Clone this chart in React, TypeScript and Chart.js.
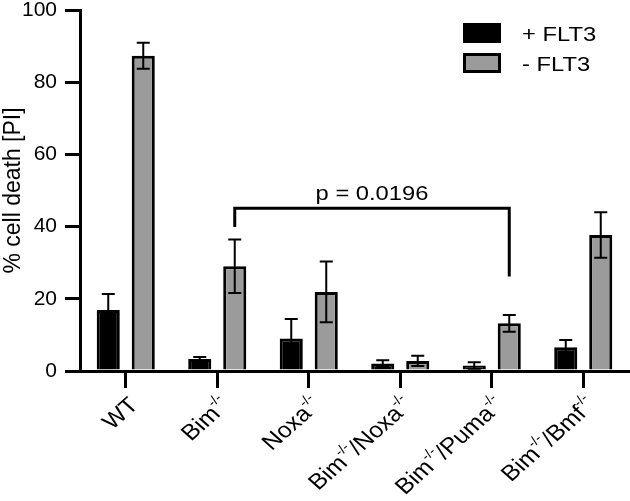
import React, { useEffect, useRef } from "react";
import { Chart, registerables } from "chart.js";

Chart.register(...registerables);

// ---- data ----
const categories = [
  "WT",
  "Bim{-/-}",
  "Noxa{-/-}",
  "Bim{-/-}/Noxa{-/-}",
  "Bim{-/-}/Puma{-/-}",
  "Bim{-/-}/Bmf{-/-}",
];
const seriesNames = ["+ FLT3", "- FLT3"];
const withFlt3 = [16.9, 3.3, 9.0, 2.1, 1.5, 6.6];
const withFlt3Err = [4.4, 0.6, 5.4, 0.9, 0.9, 2.0];
const withoutFlt3 = [87.3, 29.0, 21.9, 2.8, 13.2, 37.7];
const withoutFlt3Err = [3.6, 7.4, 8.4, 1.4, 2.3, 6.3];
const yMin = 0;
const yMax = 100;
const yStep = 20;
const yTitle = "% cell death [PI]";
// significance bracket (dataset 1, between category 1 and 4), in data units
const bracketFrom = 1;
const bracketTo = 4;
const bracketTop = 45.1;
const bracketLeftEnd = 39.9;
const bracketRightEnd = 26.2;
const bracketLabel = "p = 0.0196";

const FONT = "'Liberation Sans', Arial, Helvetica, sans-serif";
const GREY = "#9b9b9b";
const STRETCH = 1.13;

const errors = [withFlt3Err, withoutFlt3Err];

function parseLabel(s: string) {
  const parts: { t: string; sup: boolean }[] = [];
  const re = /\{([^}]*)\}/g;
  let last = 0;
  let m: RegExpExecArray | null;
  while ((m = re.exec(s))) {
    if (m.index > last) parts.push({ t: s.slice(last, m.index), sup: false });
    parts.push({ t: m[1], sup: true });
    last = m.index + m[0].length;
  }
  if (last < s.length) parts.push({ t: s.slice(last), sup: false });
  return parts;
}

function stretchedText(ctx: any, text: string, x: number, y: number, align: string) {
  ctx.save();
  ctx.translate(x, y);
  ctx.scale(STRETCH, 1);
  ctx.textAlign = align;
  ctx.fillText(text, 0, 0);
  ctx.restore();
}

const overlayPlugin = {
  id: "overlay",
  afterDatasetsDraw(chart: any) {
    const ctx = chart.ctx;
    const y = chart.scales.y;
    ctx.save();
    ctx.strokeStyle = "#000";
    ctx.lineWidth = 2;
    chart.data.datasets.forEach((ds: any, i: number) => {
      const meta = chart.getDatasetMeta(i);
      meta.data.forEach((el: any, j: number) => {
        const v = ds.data[j];
        const e = errors[i][j];
        const yt = y.getPixelForValue(v + e);
        const yb = y.getPixelForValue(Math.max(0, v - e));
        const x = el.x;
        ctx.beginPath();
        ctx.moveTo(x, yt);
        ctx.lineTo(x, yb);
        ctx.moveTo(x - 6.5, yt);
        ctx.lineTo(x + 6.5, yt);
        ctx.moveTo(x - 6.5, yb);
        ctx.lineTo(x + 6.5, yb);
        ctx.stroke();
      });
    });
    ctx.restore();
  },
  afterDraw(chart: any) {
    const ctx = chart.ctx;
    const xs = chart.scales.x;
    const ys = chart.scales.y;
    ctx.save();
    // x labels
    ctx.fillStyle = "#000";
    const supFont = `13px ${FONT}`;
    const mainFont = `22px ${FONT}`;
    categories.forEach((lab, i) => {
      const x = xs.getPixelForTick(i);
      const parts = parseLabel(lab);
      let total = 0;
      parts.forEach((p) => {
        ctx.font = p.sup ? supFont : mainFont;
        total += ctx.measureText(p.t).width;
      });
      ctx.save();
      ctx.translate(x + 9, ys.bottom + 31);
      ctx.scale(STRETCH, 1);
      ctx.rotate(-Math.PI / 4);
      ctx.textBaseline = "middle";
      ctx.textAlign = "left";
      let cx = -total;
      parts.forEach((p) => {
        ctx.font = p.sup ? supFont : mainFont;
        ctx.fillText(p.t, cx, p.sup ? -8 : 0);
        cx += ctx.measureText(p.t).width;
      });
      ctx.restore();
    });

    // bracket
    const m1 = chart.getDatasetMeta(1);
    const xl = m1.data[bracketFrom].x;
    const xr = m1.data[bracketTo].x;
    const yt = ys.getPixelForValue(bracketTop);
    ctx.strokeStyle = "#000";
    ctx.lineWidth = 3;
    ctx.lineJoin = "miter";
    ctx.beginPath();
    ctx.moveTo(xl, ys.getPixelForValue(bracketLeftEnd));
    ctx.lineTo(xl, yt);
    ctx.lineTo(xr, yt);
    ctx.lineTo(xr, ys.getPixelForValue(bracketRightEnd));
    ctx.stroke();
    ctx.font = `21px ${FONT}`;
    ctx.textBaseline = "alphabetic";
    stretchedText(ctx, bracketLabel, (xl + xr) / 2, yt - 8, "center");

    // legend
    const lx = chart.width - 167;
    const ly = [23, 53];
    chart.data.datasets.forEach((ds: any, i: number) => {
      if (i === 0) {
        ctx.fillStyle = "#000";
        ctx.fillRect(lx, ly[i], 38, 20);
      } else {
        ctx.fillStyle = GREY;
        ctx.fillRect(lx, ly[i], 38, 20);
        ctx.strokeStyle = "#000";
        ctx.lineWidth = 3;
        ctx.strokeRect(lx + 1.5, ly[i] + 1.5, 35, 17);
      }
      ctx.fillStyle = "#000";
      ctx.font = `21px ${FONT}`;
      ctx.textBaseline = "middle";
      stretchedText(ctx, ds.label, lx + 59, ly[i] + 12, "left");
    });
    ctx.restore();
  },
};

export default function App() {
  const ref = useRef<HTMLCanvasElement | null>(null);
  useEffect(() => {
    if (!ref.current) return;
    const chart = new Chart(ref.current, {
      type: "bar",
      data: {
        labels: categories.map((c) => c.replace(/[{}]/g, "")),
        datasets: [
          {
            label: seriesNames[0],
            data: withFlt3,
            backgroundColor: "#000",
            borderColor: "#000",
            borderWidth: 3,
          },
          {
            label: seriesNames[1],
            data: withoutFlt3,
            backgroundColor: GREY,
            borderColor: "#000",
            borderWidth: 3,
          },
        ],
      },
      options: {
        animation: false,
        responsive: true,
        maintainAspectRatio: false,
        layout: { padding: { top: 10, right: 1, left: 0, bottom: 0 } },
        datasets: {
          bar: { categoryPercentage: 0.765, barPercentage: 0.66 },
        },
        plugins: {
          legend: { display: false },
          tooltip: { enabled: false },
        },
        scales: {
          x: {
            grid: {
              display: true,
              drawOnChartArea: false,
              drawTicks: true,
              offset: false,
              tickLength: 17,
              tickWidth: 3,
              lineWidth: 3,
              color: "#000",
            },
            border: { display: true, color: "#000", width: 3 },
            ticks: { display: false },
            afterFit: (s: any) => {
              s.height = 130;
              s.paddingLeft = 0;
              s.paddingRight = 0;
            },
          },
          y: {
            min: yMin,
            max: yMax,
            ticks: {
              stepSize: yStep,
              color: "#000",
              font: { family: FONT, size: 21, lineHeight: 1 },
              padding: 8,
            },
            grid: {
              display: true,
              drawOnChartArea: false,
              drawTicks: true,
              tickLength: 15,
              tickWidth: 3,
              lineWidth: 3,
              color: "#000",
            },
            border: { display: true, color: "#000", width: 3 },
            title: {
              display: true,
              text: yTitle,
              color: "#000",
              font: { family: FONT, size: 23 },
              padding: 0,
            },
            afterFit: (s: any) => {
              s.width = 80;
              s.paddingTop = 0;
              s.paddingBottom = 0;
            },
          },
        },
      },
      plugins: [overlayPlugin],
    });
    return () => chart.destroy();
  }, []);
  return (
    <div style={{ position: "fixed", left: 0, top: 0, width: 630, height: 501, background: "#fff" }}>
      <canvas ref={ref} />
    </div>
  );
}
